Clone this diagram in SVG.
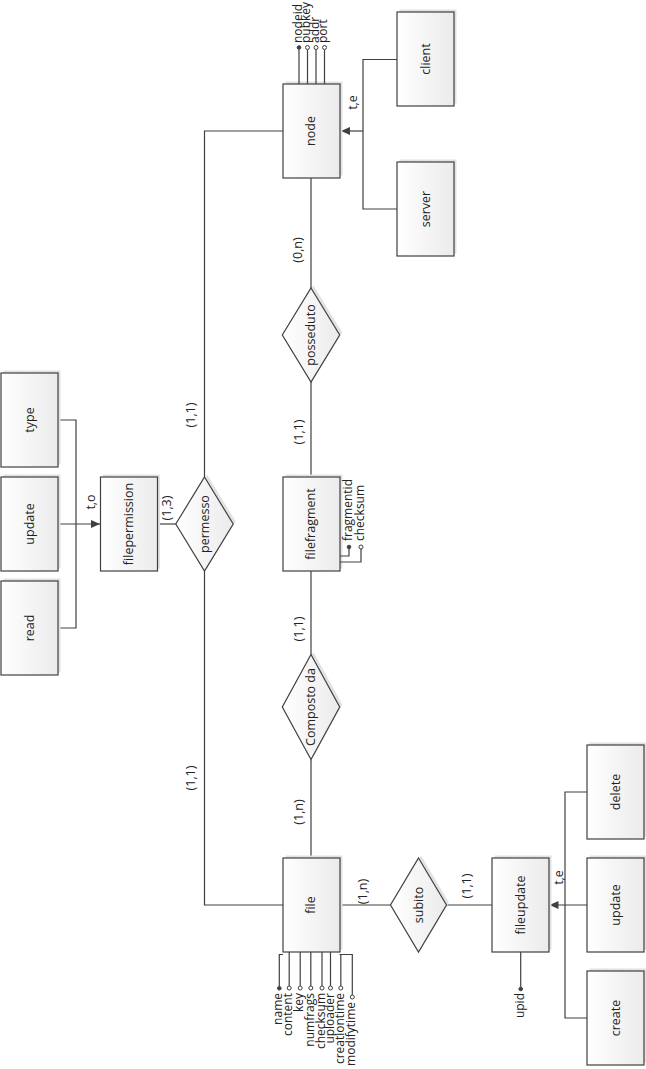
<svg xmlns="http://www.w3.org/2000/svg" width="646" height="1069" viewBox="0 0 646 1069">
<defs>
<linearGradient id="g" x1="0" y1="0" x2="1" y2="0">
<stop offset="0" stop-color="#ffffff"/>
<stop offset="1" stop-color="#ebebeb"/>
</linearGradient>
<marker id="arr" markerWidth="10" markerHeight="10" refX="9" refY="5" orient="auto" markerUnits="userSpaceOnUse">
<path d="M0,1 L9,5 L0,9 Z" fill="#404040"/>
</marker>
</defs>
<style>
.bx{fill:url(#g);stroke:#404040;stroke-width:1.2}
.sh{fill:#e2e2e2;stroke:none}
.ln{fill:none;stroke:#404040;stroke-width:1.2}
.t{font-family:"Open Sans","Liberation Sans",sans-serif;font-size:12.5px;fill:#222}
.a{font-family:"Open Sans","Liberation Sans",sans-serif;font-size:12px;fill:#222}
.fd{fill:#404040;stroke:#404040;stroke-width:1}
.ho{fill:#fff;stroke:#404040;stroke-width:1}
</style>
<rect width="646" height="1069" fill="#fff"/>

<g id="connectors">
<path class="ln" d="M283,131 H204.5 V477"/>
<path class="ln" d="M204.5,571 V905 H283"/>
<path class="ln" d="M311,178 V288"/>
<path class="ln" d="M311,382 V477"/>
<path class="ln" d="M311,571 V654.5"/>
<path class="ln" d="M311,759.5 V858"/>
<path class="ln" d="M157.5,524 H176"/>
<path class="ln" d="M340,905 H390.5"/>
<path class="ln" d="M446.5,905 H492"/>
<path class="ln" d="M397,59.5 H363 V209 H397"/>
<path class="ln" d="M363,131 H341" marker-end="url(#arr)"/>
<path class="ln" d="M58,420 H76 V628 H58"/>
<path class="ln" d="M58,524 H100" marker-end="url(#arr)"/>
<path class="ln" d="M587,792 H565 V1018 H587"/>
<path class="ln" d="M587,905 H549.5" marker-end="url(#arr)"/>
<text class="t" transform="translate(302,250) rotate(-90)" text-anchor="middle">(0,n)</text>
<text class="t" transform="translate(302.5,432) rotate(-90)" text-anchor="middle">(1,1)</text>
<text class="t" transform="translate(195,415) rotate(-90)" text-anchor="middle">(1,1)</text>
<text class="t" transform="translate(302.5,629) rotate(-90)" text-anchor="middle">(1,1)</text>
<text class="t" transform="translate(195,778) rotate(-90)" text-anchor="middle">(1,1)</text>
<text class="t" transform="translate(302.5,812) rotate(-90)" text-anchor="middle">(1,n)</text>
<text class="t" transform="translate(171,508) rotate(-90)" text-anchor="middle">(1,3)</text>
<text class="t" transform="translate(95,502) rotate(-90)" text-anchor="middle">t,o</text>
<text class="t" transform="translate(367,891.5) rotate(-90)" text-anchor="middle">(1,n)</text>
<text class="t" transform="translate(470.5,886) rotate(-90)" text-anchor="middle">(1,1)</text>
<text class="t" transform="translate(563,877.5) rotate(-90)" text-anchor="middle">t,e</text>
<text class="t" transform="translate(356.5,102.5) rotate(-90)" text-anchor="middle">t,e</text>
</g>

<g id="node">
<rect class="sh" x="285.5" y="81.5" width="57" height="94"/>
<rect class="bx" x="283" y="84" width="57" height="94"/>
<text class="t" transform="translate(315,131) rotate(-90)" text-anchor="middle">node</text>
<path class="ln" d="M299,84 V49.5 M307.5,84 V49.5 M316,84 V49.5 M324.5,84 V49.5"/>
<circle class="fd" cx="299" cy="47.5" r="1.8"/>
<circle class="ho" cx="307.5" cy="47.5" r="2"/>
<circle class="ho" cx="316" cy="47.5" r="2"/>
<circle class="ho" cx="324.5" cy="47.5" r="2"/>
<text class="a" transform="translate(301.5,43) rotate(-90)">nodeid</text>
<text class="a" transform="translate(310,43) rotate(-90)">pubkey</text>
<text class="a" transform="translate(318.5,43) rotate(-90)">addr</text>
<text class="a" transform="translate(327,43) rotate(-90)">port</text>
</g>

<g id="client">
<rect class="sh" x="399.5" y="9.5" width="57" height="94"/>
<rect class="bx" x="397" y="12" width="57" height="94"/>
<text class="t" transform="translate(429.5,59) rotate(-90)" text-anchor="middle">client</text>
</g>

<g id="server">
<rect class="sh" x="399.5" y="159.5" width="57" height="94"/>
<rect class="bx" x="397" y="162" width="57" height="94"/>
<text class="t" transform="translate(429.5,209) rotate(-90)" text-anchor="middle">server</text>
</g>

<g id="posseduto">
<path class="sh" d="M313.5,285.5 L342.2,332.5 L313.5,379.5 L284.8,332.5 Z"/>
<path class="bx" d="M311,288 L339.7,335 L311,382 L282.3,335 Z"/>
<text class="t" transform="translate(315,335) rotate(-90)" text-anchor="middle">posseduto</text>
</g>

<g id="filefragment">
<rect class="sh" x="285.5" y="474.5" width="57" height="94"/>
<rect class="bx" x="283" y="477" width="57" height="94"/>
<text class="t" transform="translate(315,524) rotate(-90)" text-anchor="middle">filefragment</text>
<path class="ln" d="M340,556 H349 V549"/>
<path class="ln" d="M340,562 H361 V549"/>
<circle class="fd" cx="349" cy="547" r="1.8"/>
<circle class="ho" cx="361" cy="547" r="2"/>
<text class="a" transform="translate(351.5,541) rotate(-90)">fragmentid</text>
<text class="a" transform="translate(363.5,541) rotate(-90)">checksum</text>
</g>

<g id="permesso">
<path class="sh" d="M207,474.5 L235.7,521.5 L207,568.5 L178.3,521.5 Z"/>
<path class="bx" d="M204.5,477 L233.2,524 L204.5,571 L175.8,524 Z"/>
<text class="t" transform="translate(208.5,524) rotate(-90)" text-anchor="middle">permesso</text>
</g>

<g id="filepermission">
<rect class="sh" x="103" y="474.5" width="57" height="94"/>
<rect class="bx" x="100.5" y="477" width="57" height="94"/>
<text class="t" transform="translate(133,524) rotate(-90)" text-anchor="middle">filepermission</text>
</g>

<g id="type">
<rect class="sh" x="3.5" y="370.5" width="57" height="94"/>
<rect class="bx" x="1" y="373" width="57" height="94"/>
<text class="t" transform="translate(33.5,420) rotate(-90)" text-anchor="middle">type</text>
</g>

<g id="perm-update">
<rect class="sh" x="3.5" y="474.5" width="57" height="94"/>
<rect class="bx" x="1" y="477" width="57" height="94"/>
<text class="t" transform="translate(33.5,524) rotate(-90)" text-anchor="middle">update</text>
</g>

<g id="read">
<rect class="sh" x="3.5" y="578.5" width="57" height="94"/>
<rect class="bx" x="1" y="581" width="57" height="94"/>
<text class="t" transform="translate(33.5,628) rotate(-90)" text-anchor="middle">read</text>
</g>

<g id="composto">
<path class="sh" d="M313.5,652 L342.2,704.5 L313.5,757 L284.8,704.5 Z"/>
<path class="bx" d="M311,654.5 L339.7,707 L311,759.5 L282.3,707 Z"/>
<text class="t" transform="translate(315,707) rotate(-90)" text-anchor="middle">Composto da</text>
</g>

<g id="file">
<rect class="sh" x="285.5" y="855.5" width="57" height="94"/>
<rect class="bx" x="283" y="858" width="57" height="94"/>
<text class="t" transform="translate(315,905) rotate(-90)" text-anchor="middle">file</text>
<path class="ln" d="M283,954.5 H279.3 V986.5"/>
<path class="ln" d="M289.2,952 V986"/>
<path class="ln" d="M300.2,952 V986"/>
<path class="ln" d="M310.8,952 V986"/>
<path class="ln" d="M322,952 V986"/>
<path class="ln" d="M330.5,952 V986"/>
<path class="ln" d="M340.8,954.5 V986"/>
<path class="ln" d="M339.5,954.5 H352.3 V995"/>
<circle class="fd" cx="279.3" cy="988.3" r="1.8"/>
<circle class="ho" cx="289.2" cy="988" r="2"/>
<circle class="ho" cx="300.2" cy="988" r="2"/>
<circle class="ho" cx="310.8" cy="988" r="2"/>
<circle class="ho" cx="322" cy="988" r="2"/>
<circle class="ho" cx="330.5" cy="988" r="2"/>
<circle class="ho" cx="340.8" cy="988" r="2"/>
<circle class="ho" cx="352.3" cy="997" r="2"/>
<text class="a" transform="translate(282.3,993) rotate(-90)" text-anchor="end">name</text>
<text class="a" transform="translate(292.2,993) rotate(-90)" text-anchor="end">content</text>
<text class="a" transform="translate(303.2,993) rotate(-90)" text-anchor="end">key</text>
<text class="a" transform="translate(313.8,993) rotate(-90)" text-anchor="end">numfrags</text>
<text class="a" transform="translate(325,993) rotate(-90)" text-anchor="end">checksum</text>
<text class="a" transform="translate(333.5,993) rotate(-90)" text-anchor="end">uploader</text>
<text class="a" transform="translate(343.8,993) rotate(-90)" text-anchor="end">creationtime</text>
<text class="a" transform="translate(355.3,1002) rotate(-90)" text-anchor="end">modifytime</text>
</g>

<g id="subito">
<path class="sh" d="M421,855.5 L449,902.5 L421,949.5 L393,902.5 Z"/>
<path class="bx" d="M418.5,858 L446.5,905 L418.5,952 L390.5,905 Z"/>
<text class="t" transform="translate(422.5,905) rotate(-90)" text-anchor="middle">subito</text>
</g>

<g id="fileupdate">
<rect class="sh" x="494.5" y="855.5" width="57" height="94"/>
<rect class="bx" x="492" y="858" width="57" height="94"/>
<text class="t" transform="translate(524.5,905) rotate(-90)" text-anchor="middle">fileupdate</text>
<path class="ln" d="M520.7,952 V987"/>
<circle class="fd" cx="520.7" cy="989" r="1.8"/>
<text class="a" transform="translate(523.7,993) rotate(-90)" text-anchor="end">upid</text>
</g>

<g id="delete">
<rect class="sh" x="589.5" y="742.5" width="57" height="94"/>
<rect class="bx" x="587" y="745" width="57" height="94"/>
<text class="t" transform="translate(619.5,792) rotate(-90)" text-anchor="middle">delete</text>
</g>

<g id="update">
<rect class="sh" x="589.5" y="855.5" width="57" height="94"/>
<rect class="bx" x="587" y="858" width="57" height="94"/>
<text class="t" transform="translate(619.5,905) rotate(-90)" text-anchor="middle">update</text>
</g>

<g id="create">
<rect class="sh" x="589.5" y="968.5" width="57" height="94"/>
<rect class="bx" x="587" y="971" width="57" height="94"/>
<text class="t" transform="translate(619.5,1018) rotate(-90)" text-anchor="middle">create</text>
</g>
</svg>
